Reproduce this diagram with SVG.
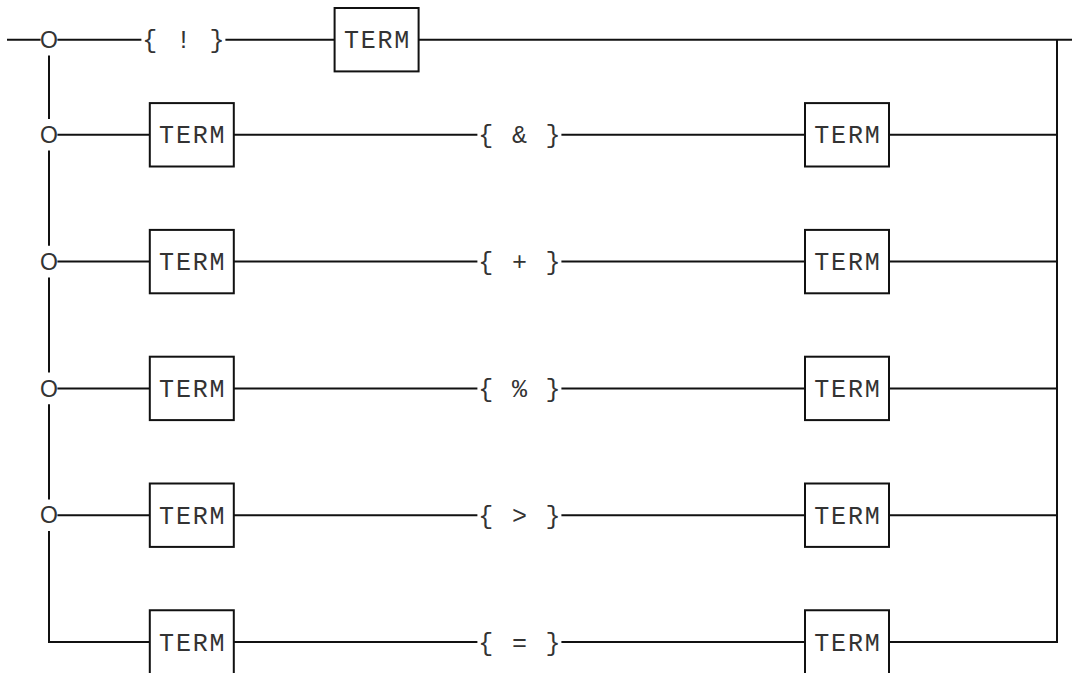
<svg xmlns="http://www.w3.org/2000/svg" width="1072" height="673" viewBox="0 0 1072 673">
<style>
.ln{stroke:#111;stroke-width:2;fill:none}
.box{fill:#fff;stroke:#111;stroke-width:2}
.t{font-family:"Liberation Mono","DejaVu Sans Mono",monospace;font-size:25px;fill:#333;text-anchor:middle}
.o{font-family:"Liberation Sans","DejaVu Sans",sans-serif;font-size:23px;fill:#333;text-anchor:middle}
</style>
<rect width="1072" height="673" fill="#fff"/>
<g id="connectors">
  <line class="ln" x1="7" y1="39.7" x2="40.6" y2="39.7"/>
  <line class="ln" x1="57.4" y1="39.7" x2="141.4" y2="39.7"/>
  <line class="ln" x1="225.4" y1="39.7" x2="334.6" y2="39.7"/>
  <line class="ln" x1="418.6" y1="39.7" x2="1072" y2="39.7"/>
  <line class="ln" x1="49" y1="55.5" x2="49" y2="119"/>
  <line class="ln" x1="49" y1="150.6" x2="49" y2="245.8"/>
  <line class="ln" x1="49" y1="277.4" x2="49" y2="372.6"/>
  <line class="ln" x1="49" y1="404.2" x2="49" y2="499.4"/>
  <path class="ln" d="M49,531 V642 H149.8"/>
  <line class="ln" x1="1057" y1="39.7" x2="1057" y2="642"/>
  <line class="ln" x1="57.4" y1="134.8" x2="149.8" y2="134.8"/>
  <line class="ln" x1="233.8" y1="134.8" x2="477.4" y2="134.8"/>
  <line class="ln" x1="561.4" y1="134.8" x2="805" y2="134.8"/>
  <line class="ln" x1="889" y1="134.8" x2="1057" y2="134.8"/>
  <line class="ln" x1="57.4" y1="261.6" x2="149.8" y2="261.6"/>
  <line class="ln" x1="233.8" y1="261.6" x2="477.4" y2="261.6"/>
  <line class="ln" x1="561.4" y1="261.6" x2="805" y2="261.6"/>
  <line class="ln" x1="889" y1="261.6" x2="1057" y2="261.6"/>
  <line class="ln" x1="57.4" y1="388.4" x2="149.8" y2="388.4"/>
  <line class="ln" x1="233.8" y1="388.4" x2="477.4" y2="388.4"/>
  <line class="ln" x1="561.4" y1="388.4" x2="805" y2="388.4"/>
  <line class="ln" x1="889" y1="388.4" x2="1057" y2="388.4"/>
  <line class="ln" x1="57.4" y1="515.2" x2="149.8" y2="515.2"/>
  <line class="ln" x1="233.8" y1="515.2" x2="477.4" y2="515.2"/>
  <line class="ln" x1="561.4" y1="515.2" x2="805" y2="515.2"/>
  <line class="ln" x1="889" y1="515.2" x2="1057" y2="515.2"/>
  <line class="ln" x1="233.8" y1="642" x2="477.4" y2="642"/>
  <line class="ln" x1="561.4" y1="642" x2="805" y2="642"/>
  <path class="ln" d="M889,642 H1057 V641"/>
</g>
<g id="junctions">
  <text class="o" x="49" y="47.9">O</text>
  <text class="o" x="49" y="143">O</text>
  <text class="o" x="49" y="269.8">O</text>
  <text class="o" x="49" y="396.6">O</text>
  <text class="o" x="49" y="523.4">O</text>
</g>
<g id="r1-op"><text class="t" x="149.8 183.4 217" y="48.2">{!}</text></g>
<g id="r1-term"><rect class="box" x="334.6" y="8" width="84" height="63.4"/><text class="t" x="351.4 368.2 385 401.8" y="48.2">TERM</text></g>

<g id="r2-term-l"><rect class="box" x="149.8" y="103.1" width="84" height="63.4"/><text class="t" x="166.6 183.4 200.2 217" y="143.3">TERM</text></g>
<g id="r2-op"><text class="t" x="485.8 519.4 553" y="143.3">{&amp;}</text></g>
<g id="r2-term-r"><rect class="box" x="805" y="103.1" width="84" height="63.4"/><text class="t" x="821.8 838.6 855.4 872.2" y="143.3">TERM</text></g>

<g id="r3-term-l"><rect class="box" x="149.8" y="229.9" width="84" height="63.4"/><text class="t" x="166.6 183.4 200.2 217" y="270.1">TERM</text></g>
<g id="r3-op"><text class="t" x="485.8 519.4 553" y="270.1">{+}</text></g>
<g id="r3-term-r"><rect class="box" x="805" y="229.9" width="84" height="63.4"/><text class="t" x="821.8 838.6 855.4 872.2" y="270.1">TERM</text></g>

<g id="r4-term-l"><rect class="box" x="149.8" y="356.7" width="84" height="63.4"/><text class="t" x="166.6 183.4 200.2 217" y="396.9">TERM</text></g>
<g id="r4-op"><text class="t" x="485.8 519.4 553" y="396.9">{%}</text></g>
<g id="r4-term-r"><rect class="box" x="805" y="356.7" width="84" height="63.4"/><text class="t" x="821.8 838.6 855.4 872.2" y="396.9">TERM</text></g>

<g id="r5-term-l"><rect class="box" x="149.8" y="483.5" width="84" height="63.4"/><text class="t" x="166.6 183.4 200.2 217" y="523.7">TERM</text></g>
<g id="r5-op"><text class="t" x="485.8 519.4 553" y="523.7">{&gt;}</text></g>
<g id="r5-term-r"><rect class="box" x="805" y="483.5" width="84" height="63.4"/><text class="t" x="821.8 838.6 855.4 872.2" y="523.7">TERM</text></g>

<g id="r6-term-l"><path class="box" d="M149.8,680 V610.3 H233.8 V680"/><text class="t" x="166.6 183.4 200.2 217" y="650.5">TERM</text></g>
<g id="r6-op"><text class="t" x="485.8 519.4 553" y="650.5">{=}</text></g>
<g id="r6-term-r"><path class="box" d="M805,680 V610.3 H889 V680"/><text class="t" x="821.8 838.6 855.4 872.2" y="650.5">TERM</text></g>
</svg>
